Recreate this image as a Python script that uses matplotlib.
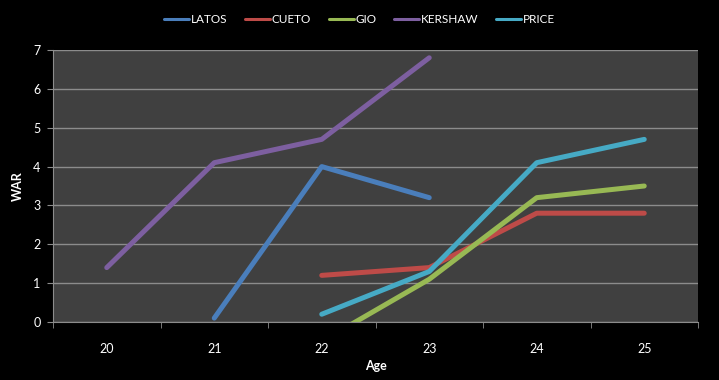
import numpy as np
from matplotlib import pyplot as plt

ages = ["20", "21", "22", "23", "24", "25"]
latos = [np.nan, 0.1, 4.0, 3.2, np.nan, np.nan]
cueto = [np.nan, np.nan, 1.2, 1.4, 2.8, 2.8]
gio = [np.nan, np.nan, -0.5, 1.1, 3.2, 3.5]
kershaw = [1.4, 4.1, 4.7, 6.8, np.nan, np.nan]
price = [np.nan, np.nan, 0.2, 1.3, 4.1, 4.7]

series = [("LATOS", latos, "#4A7EBB"),
          ("CUETO", cueto, "#BE4B48"),
          ("GIO", gio, "#98B954"),
          ("KERSHAW", kershaw, "#7D5FA0"),
          ("PRICE", price, "#46AAC5")]

plt.rcParams['font.family'] = ['Lato', 'DejaVu Sans']
fig = plt.figure(figsize=(7.19, 3.8), dpi=100, facecolor='black')
ax = fig.add_axes([53 / 719, 58 / 380, 645 / 719, 272 / 380])
ax.set_facecolor('#404040')

x = np.arange(len(ages))
for name, vals, color in series:
    ax.plot(x, vals, color=color, linewidth=3.6, solid_capstyle='round',
            solid_joinstyle='round', label=name)

ax.set_xlim(-0.5, len(ages) - 0.5)
ax.set_ylim(0, 7)
ax.set_yticks(range(0, 8))
ax.yaxis.grid(True, color='#8C8C8C', linewidth=1)
ax.set_axisbelow(True)

ax.set_xticks(x)
ax.set_xticklabels(ages)
ax.set_xticks(np.arange(-0.5, len(ages)), minor=True)
ax.tick_params(axis='x', which='major', length=0, pad=15, labelsize=9)
ax.tick_params(axis='x', which='minor', length=4, color='#8C8C8C', direction='out')
ax.tick_params(axis='y', length=4, color='#8C8C8C', labelsize=9, pad=5)
for t in ax.get_xticklabels() + ax.get_yticklabels():
    t.set_color('white')

for s in ['top', 'right']:
    ax.spines[s].set_visible(False)
ax.spines['left'].set_color('#8C8C8C')
ax.spines['bottom'].set_color('#8C8C8C')

ax.set_xlabel('Age', color='white', fontsize=9, fontweight='bold', labelpad=4)
ax.set_ylabel('WAR', color='white', fontsize=9, fontweight='bold', labelpad=7)

leg = fig.legend(loc='upper center', bbox_to_anchor=(0.5, 0.99), ncol=5, frameon=False,
                 fontsize=8.5, handlelength=2.1, handletextpad=0.15, columnspacing=1.5)
for t in leg.get_texts():
    t.set_color('white')
for h in leg.get_lines():
    h.set_linewidth(2.2)

plt.savefig("out.png", facecolor='black')
